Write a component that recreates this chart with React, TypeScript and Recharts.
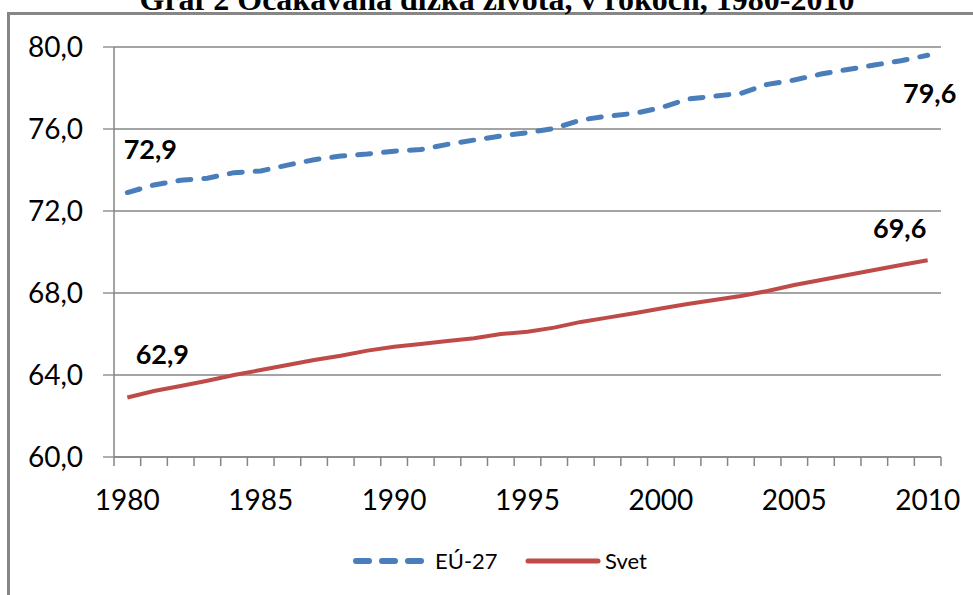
import { LineChart, Line, XAxis, YAxis, CartesianGrid, LabelList } from "recharts";

const YEARS = [
  1980, 1981, 1982, 1983, 1984, 1985, 1986, 1987, 1988, 1989, 1990, 1991, 1992, 1993, 1994, 1995,
  1996, 1997, 1998, 1999, 2000, 2001, 2002, 2003, 2004, 2005, 2006, 2007, 2008, 2009, 2010,
];

const EU_27 = [
  72.9, 73.27, 73.5, 73.6, 73.87, 73.95, 74.24, 74.5, 74.68, 74.78, 74.92, 75.0, 75.25, 75.46, 75.66,
  75.82, 76.03, 76.44, 76.63, 76.76, 77.04, 77.46, 77.6, 77.74, 78.18, 78.39, 78.68, 78.9, 79.12,
  79.33, 79.6,
];

const SVET = [
  62.9, 63.22, 63.46, 63.72, 64.0, 64.24, 64.49, 64.73, 64.94, 65.19, 65.38, 65.51, 65.66, 65.79, 66.0,
  66.11, 66.31, 66.59, 66.8, 67.01, 67.24, 67.46, 67.66, 67.85, 68.1, 68.39, 68.63, 68.88, 69.12,
  69.37, 69.6,
];

const Y_TICKS = [60, 64, 68, 72, 76, 80];
const LABEL_YEARS = [1980, 1985, 1990, 1995, 2000, 2005, 2010];
const SERIES_NAMES = ["EÚ-27", "Svet"];
const TITLE = "Graf 2 Očakávaná dĺžka života, v rokoch, 1980-2010";

const BLUE = "#4a7ebb";
const RED = "#be4b48";
const GRID = "#868686";
const FONT = "Lato, 'Open Sans', sans-serif";

const CHART_W = 973;
const CHART_H = 595;
const MARGIN = { top: 47, right: 32, left: 0, bottom: 68 };
const Y_AXIS_W = 114;

const data = YEARS.map((year, i) => ({ year, eu: EU_27[i], svet: SVET[i] }));

const fmt = (v: number) => v.toFixed(1).replace(".", ",");

// tick marks sit on the category boundaries, labels only every fifth year
function YearTick(props: any) {
  const { x, y, payload, index } = props;
  let half = payload?.offset;
  if (!Number.isFinite(half) || half <= 0) {
    const w = Number.isFinite(props.width) && props.width > 0
      ? props.width
      : CHART_W - MARGIN.left - MARGIN.right - Y_AXIS_W;
    half = w / YEARS.length / 2;
  }
  const top = y - 9;
  const isLast = index === YEARS.length - 1;
  return (
    <g>
      <line x1={x - half} x2={x - half} y1={top} y2={top + 9} stroke={GRID} strokeWidth={1.5} />
      {isLast && <line x1={x + half} x2={x + half} y1={top} y2={top + 9} stroke={GRID} strokeWidth={1.5} />}
      {LABEL_YEARS.includes(payload.value) && (
        <text x={x} y={top + 53} textAnchor="middle" fontSize={28} fontFamily={FONT} fill="#000">
          {payload.value}
        </text>
      )}
    </g>
  );
}

// offsets of the end labels relative to the first / last point: [dx, dy to baseline]
const endLabel = (first: [number, number], last: [number, number]) => (props: any) => {
  const { x, y, value, index } = props;
  let off: [number, number] | null = null;
  if (index === 0) off = first;
  else if (index === YEARS.length - 1) off = last;
  if (!off) return null;
  return (
    <text x={x + off[0]} y={y + off[1]} textAnchor="middle" fontSize={27} fontWeight={700} fontFamily={FONT} fill="#000">
      {fmt(Number(value))}
    </text>
  );
};

export default function App() {
  return (
    <div
      style={{
        position: "fixed",
        left: 0,
        top: 0,
        width: CHART_W,
        height: CHART_H,
        overflow: "hidden",
        background: "#fff",
      }}
    >
      <div
        style={{
          position: "absolute",
          left: 7,
          top: 12,
          width: 1100,
          height: 1100,
          border: `3px solid ${GRID}`,
        }}
      />
      <svg width={CHART_W} height={CHART_H} style={{ position: "absolute", left: 0, top: 0 }}>
        <text x={497} y={10} textAnchor="middle" fontSize={32} fontWeight={700} fontFamily="'Liberation Serif', serif" fill="#000">
          {TITLE}
        </text>
      </svg>
      <div style={{ position: "absolute", left: 0, top: 0 }}>
        <LineChart width={CHART_W} height={CHART_H} data={data} margin={MARGIN}>
          <CartesianGrid horizontal vertical={false} stroke={GRID} strokeWidth={1.3} />
          <XAxis
            dataKey="year"
            type="category"
            scale="band"
            interval={0}
            height={70}
            tickLine={false}
            tickSize={9}
            tickMargin={0}
            axisLine={{ stroke: GRID, strokeWidth: 1.5 }}
            tick={<YearTick />}
          />
          <YAxis
            type="number"
            domain={[60, 80]}
            ticks={Y_TICKS}
            width={Y_AXIS_W}
            tickSize={11}
            tickMargin={20}
            tickFormatter={fmt}
            axisLine={{ stroke: GRID, strokeWidth: 1.5 }}
            tickLine={{ stroke: GRID, strokeWidth: 1.3 }}
            tick={{ fontSize: 28, fontFamily: FONT, fill: "#000" }}
          />
          <Line
            dataKey="eu"
            name={SERIES_NAMES[0]}
            stroke={BLUE}
            strokeWidth={5}
            strokeDasharray="13 13"
            strokeLinecap="round"
            dot={false}
            isAnimationActive={false}
          >
            <LabelList dataKey="eu" content={endLabel([23, -34], [2, 48])} />
          </Line>
          <Line
            dataKey="svet"
            name={SERIES_NAMES[1]}
            stroke={RED}
            strokeWidth={4}
            dot={false}
            isAnimationActive={false}
          >
            <LabelList dataKey="svet" content={endLabel([35, -34], [-28, -22])} />
          </Line>
        </LineChart>
      </div>
      <svg width={CHART_W} height={CHART_H} style={{ position: "absolute", left: 0, top: 0, pointerEvents: "none" }}>
        <line x1={356} x2={421} y1={561} y2={561} stroke={BLUE} strokeWidth={6} strokeDasharray="13 13" strokeLinecap="round" />
        <text x={435} y={569} fontSize={22} fontFamily={FONT} fill="#000">
          {SERIES_NAMES[0]}
        </text>
        <line x1={528} x2={598} y1={561} y2={561} stroke={RED} strokeWidth={5} strokeLinecap="round" />
        <text x={605} y={569} fontSize={22} fontFamily={FONT} fill="#000">
          {SERIES_NAMES[1]}
        </text>
      </svg>
    </div>
  );
}
